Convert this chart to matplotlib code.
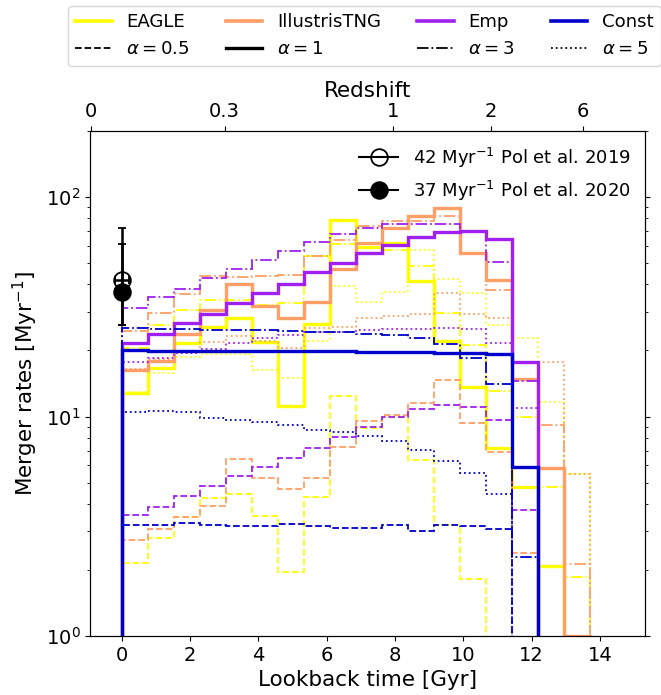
import numpy as np
import matplotlib
matplotlib.use("Agg")
import matplotlib.pyplot as plt
from matplotlib.lines import Line2D

# ---------------------------------------------------------------
# Lookback-time bins [Gyr]
# ---------------------------------------------------------------
bin_edges = np.linspace(0.0, 13.7, 19)

model_names = ["EAGLE", "IllustrisTNG", "Emp", "Const"]
model_colors = ["#ffff00", "#ff9f66", "#a020f0", "#0000cd"]
alpha_values = [0.5, 1, 3, 5]
alpha_styles = ["--", "-", "-.", ":"]

# Merger rates per bin [Myr^-1]
eagle_a05 = [2.14, 2.8, 3.5, 4.24, 4.42, 3.53, 1.96, 4.32, 12.35, 8.9, 9.95, 6.34, 3.2, 1.81]
eagle_a1 = [12.8, 16.7, 21.6, 25.7, 28.1, 21.9, 11.2, 26.5, 79.0, 59.0, 62.0, 41.5, 22.0, 13.6, 7.2, 4.76, 2.08]
eagle_a3 = [20.5, 26.2, 30.6, 33.8, 33.8, 32.3, 32.9, 54.0, 60.8, 59.0, 57.4, 48.4, 29.7, 21.1, 13.1, 9.9, 4.76, 1.85]
eagle_a5 = [13.0, 15.8, 18.7, 19.3, 19.2, 16.3, 15.0, 22.0, 39.5, 33.4, 37.0, 57.3, 42.5, 36.6, 26.0, 22.8, 11.7, 5.5]

tng_a05 = [2.74, 3.07, 3.5, 3.91, 6.41, 5.27, 4.67, 5.27, 7.23, 9.54, 10.2, 11.5, 14.6, 9.3, 6.9, 2.38]
tng_a1 = [16.3, 18.0, 23.8, 30.6, 40.3, 31.8, 28.1, 33.1, 46.8, 62.0, 72.0, 82.0, 89.5, 55.5, 41.8, 14.8, 5.8, 1.0]
tng_a3 = [24.5, 29.7, 36.2, 43.6, 43.2, 43.6, 44.0, 54.0, 64.0, 73.8, 77.5, 77.5, 82.0, 55.0, 37.8, 17.6, 9.15, 2.13]
tng_a5 = [16.5, 18.3, 19.5, 21.9, 23.4, 22.0, 20.5, 25.3, 25.6, 28.1, 28.8, 29.2, 36.4, 29.2, 28.0, 17.6, 17.7, 5.5]

emp_a05 = [3.55, 3.88, 4.36, 4.83, 5.35, 5.9, 6.5, 7.2, 8.1, 8.94, 9.9, 10.8, 11.3, 11.0, 9.6, 3.74]
emp_a1 = [21.6, 23.8, 26.8, 29.2, 32.9, 36.6, 40.2, 45.5, 50.1, 55.5, 60.2, 65.8, 69.0, 70.1, 64.7, 17.7]
emp_a3 = [31.3, 34.9, 38.2, 42.8, 47.0, 51.5, 56.8, 62.7, 67.9, 72.2, 75.6, 75.6, 75.6, 70.1, 50.5, 14.5]
emp_a5 = [17.8, 18.5, 19.5, 20.4, 21.6, 22.8, 23.6, 24.2, 24.3, 24.8, 25.1, 25.1, 25.3, 25.1, 21.6, 10.9]

const_a05 = [3.20, 3.20, 3.26, 3.22, 3.18, 3.18, 3.24, 3.18, 3.12, 3.12, 3.20, 3.02, 3.20, 3.16, 3.07]
const_a1 = [20.0, 19.9, 19.9, 19.8, 19.8, 19.8, 19.8, 19.8, 19.8, 19.6, 19.6, 19.6, 19.5, 19.4, 19.2, 5.9]
const_a3 = [25.3, 25.1, 25.0, 24.9, 24.9, 24.8, 24.6, 24.3, 24.3, 23.8, 23.6, 22.8, 21.4, 18.5, 14.1, 2.29]
const_a5 = [10.5, 10.6, 10.5, 9.84, 9.67, 9.4, 9.15, 8.69, 8.5, 8.17, 7.7, 7.03, 6.3, 5.55, 4.43]

rates = {
    "EAGLE": [eagle_a05, eagle_a1, eagle_a3, eagle_a5],
    "IllustrisTNG": [tng_a05, tng_a1, tng_a3, tng_a5],
    "Emp": [emp_a05, emp_a1, emp_a3, emp_a5],
    "Const": [const_a05, const_a1, const_a3, const_a5],
}

# Observational estimates (Pol et al.)
obs_labels = ["42 Myr$^{-1}$ Pol et al. 2019", "37 Myr$^{-1}$ Pol et al. 2020"]
obs_rate = [42.0, 37.0]
obs_err_low = [16.0, 11.0]
obs_err_high = [30.0, 24.0]
obs_filled = [False, True]

# Redshift axis: labels and their lookback-time positions [Gyr]
redshift_labels = ["0", "0.3", "1", "2", "6"]
redshift_lookback = [-0.91, 3.01, 7.94, 10.81, 13.50]

# ---------------------------------------------------------------
fig = plt.figure(figsize=(6.61, 6.95), dpi=100)
ax = fig.add_axes([0.1362, 0.0849, 0.8396, 0.7266])
ax.set_yscale("log")

for name, color in zip(model_names, model_colors):
    for vals, ls, a in zip(rates[name], alpha_styles, alpha_values):
        n = len(vals)
        lw = 2.4 if a == 1 else 1.3
        ax.stairs(vals, bin_edges[: n + 1], baseline=1e-2, color=color,
                  linestyle=ls, linewidth=lw)

for y, lo, hi, filled in zip(obs_rate, obs_err_low, obs_err_high, obs_filled):
    ax.errorbar([0.0], [y], yerr=[[lo], [hi]], xerr=0.2, fmt="o", color="black",
                markersize=12, markerfacecolor="black" if filled else "none",
                markeredgewidth=1.3, elinewidth=1.8, capsize=3, capthick=1.5, zorder=5)

ax.set_xlim(-0.93, 15.32)
ax.set_ylim(1, 200)
ax.set_xticks(np.arange(0, 15, 2))
ax.tick_params(axis="both", which="major", labelsize=14)
ax.tick_params(axis="y", which="both", right=True)
ax.set_xlabel("Lookback time [Gyr]", fontsize=15.5)
ax.set_ylabel("Merger rates [Myr$^{-1}$]", fontsize=15.5)

# Top redshift axis
axz = ax.twiny()
axz.set_xlim(ax.get_xlim())
axz.set_xticks(redshift_lookback)
axz.set_xticklabels(redshift_labels)
axz.tick_params(axis="x", labelsize=14)
axz.set_xlabel("Redshift", fontsize=15.5)

# Legend for the observational points
obs_handles = [
    Line2D([], [], color="black", marker="o", markersize=12, linewidth=1.5,
           markerfacecolor="black" if f else "none", markeredgewidth=1.3)
    for f in obs_filled
]
ax.legend(obs_handles, obs_labels, loc="upper right", frameon=False, fontsize=13,
          handlelength=2.2, borderaxespad=0.4)

# Model / alpha legend above the axes
model_handles = [Line2D([], [], color=c, linewidth=2.6) for c in model_colors]
alpha_handles = [Line2D([], [], color="black", linestyle=ls, linewidth=2.4 if a == 1 else 1.3)
                 for ls, a in zip(alpha_styles, alpha_values)]
alpha_texts = [r"$\alpha = %s$" % a for a in alpha_values]
handles, labels = [], []
for mh, mn, ah, at in zip(model_handles, model_names, alpha_handles, alpha_texts):
    handles += [mh, ah]
    labels += [mn, at]
fig.legend(handles, labels, ncol=4, loc="upper left",
           bbox_to_anchor=(68 / 661, 1 - 6 / 695), borderaxespad=0.0,
           fontsize=13.1, handlelength=2.0, columnspacing=2.0)

fig.savefig("out.png", dpi=100)
